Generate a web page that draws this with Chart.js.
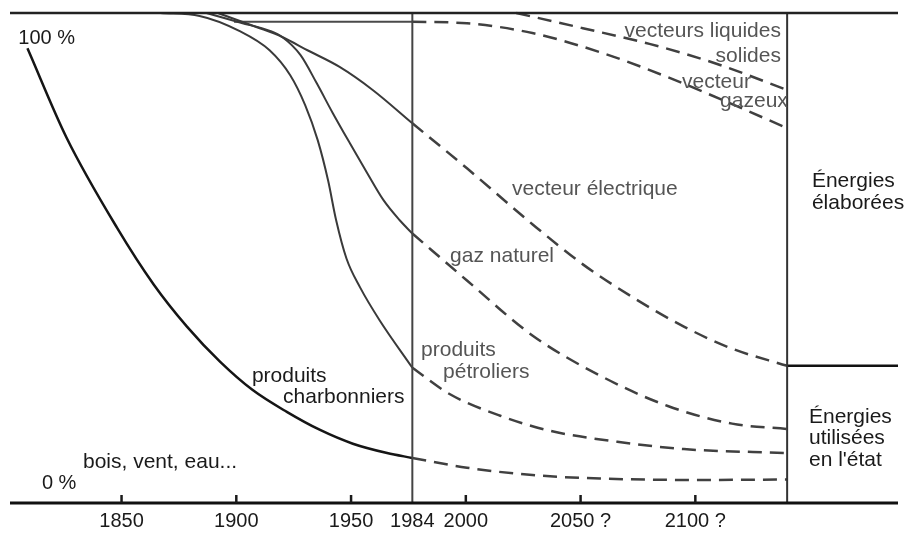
<!DOCTYPE html>
<html lang="fr">
<head>
<meta charset="utf-8">
<title>Énergies élaborées et énergies utilisées en l'état</title>
<script src="https://cdn.jsdelivr.net/npm/chart.js@4.4.1/dist/chart.umd.min.js"></script>
<style>
  html, body { margin: 0; padding: 0; background: #fff; }
  canvas { display: block; }
</style>
</head>
<body>
<canvas id="grafico" width="905" height="550"></canvas>
<script>
// axe des années
const tickYears = [1850, 1900, 1950, 1984, 2000, 2050, 2100];
const tickLabels = ['1850', '1900', '1950', '1984', '2000', '2050 ?', '2100 ?'];
const presentYear = 1984;
const horizonYear = 2140;

// bois, vent, eau (limite haute)
const woodYears = [1809, 1826, 1848, 1864, 1878.5, 1893, 1907, 1922, 1936.5, 1951, 1970, 1984];
const woodShare = [92.8, 74.6, 56.2, 44.6, 36.0, 28.8, 23.1, 18.6, 14.9, 12.1, 10.2, 9.2];
const woodFutureYears = [1984, 2000.5, 2029, 2058.5, 2102, 2140];
const woodFutureShare = [9.2, 7.2, 5.7, 5.0, 4.7, 4.8];

// produits charbonniers
const coalYears = [1867, 1884, 1901.5, 1914.5, 1923.5, 1930, 1935.5, 1940, 1943.5, 1948, 1955, 1966, 1984];
const coalShare = [100, 99.4, 96.3, 92.4, 87.3, 81.2, 74.0, 65.8, 57.7, 49.9, 44.0, 37.2, 27.6];
const coalFutureYears = [1984, 1995, 2015, 2037, 2066, 2095, 2140];
const coalFutureShare = [27.6, 22.3, 17.8, 14.7, 12.5, 11.0, 10.2];

// produits pétroliers
const oilYears = [1887, 1902, 1915, 1920, 1928, 1935, 1942, 1949.5, 1959, 1968, 1977, 1984];
const oilShare = [100, 98.0, 96.3, 95.1, 91.4, 85.7, 79.6, 73.4, 67.3, 61.8, 57.7, 55.0];
const oilFutureYears = [1984, 2000.5, 2029, 2058.5, 2088, 2116, 2140];
const oilFutureShare = [55.0, 45.4, 34.2, 26.0, 19.8, 16.2, 15.1];

// gaz naturel
const gasYears = [1892, 1909, 1920, 1931, 1945, 1962, 1984];
const gasShare = [100, 97.1, 95.1, 92.4, 89.0, 84.3, 77.5];
const gasFutureYears = [1984, 2000.5, 2029, 2051, 2073, 2095, 2116, 2140];
const gasFutureShare = [77.5, 68.3, 56.9, 48.7, 41.9, 36.0, 31.5, 28.0];

// vecteur électrique
const electricYears = [1899, 1984];
const electricShare = [98.2, 98.2];
const electricFutureYears = [1984, 2000.5, 2029, 2058.5, 2088, 2116, 2140];
const electricFutureShare = [98.2, 97.9, 95.9, 92.0, 86.9, 81.4, 76.5];

// vecteur gazeux
const gaseousYears = [2022, 2051, 2080, 2109.5, 2140];
const gaseousShare = [100, 96.9, 93.7, 89.6, 84.3];

const BLACK = '#1a1a1a';
const GREY = '#555';
const labels = [
    { text: '100 %', x: 1805, y: 93.7, size: 20, color: BLACK },
    { text: '0 %', x: 1815.3, y: 2.9, size: 20, color: BLACK },
    { text: 'bois, vent, eau...', x: 1833.2, y: 7.2, color: BLACK },
    { text: 'produits', x: 1906.8, y: 24.7, color: BLACK },
    { text: 'charbonniers', x: 1920.4, y: 20.4, color: BLACK },
    { text: 'produits', x: 1986.6, y: 29.9, color: GREY },
    { text: 'pétroliers', x: 1993.2, y: 25.6, color: GREY },
    { text: 'gaz naturel', x: 1995.3, y: 49.1, color: GREY },
    { text: 'vecteur électrique', x: 2020.1, y: 62.8, color: GREY },
    { text: 'vecteurs liquides', x: 2137.3, y: 95.1, color: GREY, align: 'right' },
    { text: 'solides', x: 2137.3, y: 90.0, color: GREY, align: 'right' },
    { text: 'vecteur', x: 2094.2, y: 84.7, color: GREY },
    { text: 'gazeux', x: 2110.8, y: 80.8, color: GREY },
    { text: 'Énergies', x: 2150.8, y: 64.4, color: BLACK },
    { text: 'élaborées', x: 2150.8, y: 60.1, color: BLACK },
    { text: 'Énergies', x: 2149.5, y: 16.4, color: BLACK },
    { text: 'utilisées', x: 2149.5, y: 12.1, color: BLACK },
    { text: "en l'état", x: 2149.5, y: 7.6, color: BLACK }
];

// le dessin d'origine place 1984 plus à gauche : l'axe est resserré entre 1950 et 1984
function bend(v) {
    if (v > 1950 && v <= 1984) return 1950 + (v - 1950) * 26.7 / 34;
    if (v > 1984 && v < 2000) return 1976.7 + (v - 1984) * 23.3 / 16;
    return v;
}

class BentScale extends Chart.LinearScale {
    getPixelForValue(value) {
        const a = bend(this.min), b = bend(this.max);
        return this.getPixelForDecimal((bend(value) - a) / (b - a));
    }
}
BentScale.id = 'bent';
BentScale.defaults = Chart.LinearScale.defaults;
Chart.register(BentScale);

function serie(years, shares, dashed, color, width) {
    return {
        data: years.map((yr, i) => ({ x: yr, y: shares[i] })),
        borderColor: color,
        borderWidth: width,
        borderDash: dashed ? [14, 8] : [],
        pointRadius: 0,
        cubicInterpolationMode: 'monotone',
        fill: false,
        clip: 8
    };
}

function trait(points, color, width) {
    return {
        data: points,
        borderColor: color,
        borderWidth: width,
        pointRadius: 0,
        tension: 0,
        fill: false,
        clip: 8
    };
}

const xMin = 1801.4;
const xMax = 2188.3;

const decor = {
    id: 'decor',
    afterDatasetsDraw(chart) {
        const { ctx, chartArea, scales: { x, y } } = chart;
        ctx.save();
        ctx.strokeStyle = BLACK;
        ctx.lineWidth = 2.5;
        tickYears.forEach(year => {
            if (year === presentYear) return;
            const px = x.getPixelForValue(year);
            ctx.beginPath();
            ctx.moveTo(px, chartArea.bottom);
            ctx.lineTo(px, chartArea.bottom - 8);
            ctx.stroke();
        });
        ctx.textBaseline = 'alphabetic';
        labels.forEach(l => {
            ctx.font = (l.size || 21) + 'px "Liberation Sans", Arial, sans-serif';
            ctx.fillStyle = l.color;
            ctx.textAlign = l.align || 'left';
            ctx.fillText(l.text, x.getPixelForValue(l.x), y.getPixelForValue(l.y));
        });
        ctx.restore();
    }
};

const ctx = document.getElementById('grafico').getContext('2d');

new Chart(ctx, {
    type: 'line',
    data: {
        datasets: [
            trait([{ x: xMin, y: 100 }, { x: xMax, y: 100 }], '#222', 2.5),
            trait([{ x: xMin, y: 0 }, { x: xMax, y: 0 }], '#111', 3),
            trait([{ x: presentYear, y: 0 }, { x: presentYear, y: 100 }], '#444', 2),
            trait([{ x: horizonYear, y: 0 }, { x: horizonYear, y: 100 }], '#333', 2),
            trait([{ x: horizonYear, y: gasFutureShare[gasFutureShare.length - 1] }, { x: xMax, y: gasFutureShare[gasFutureShare.length - 1] }], '#111', 2.5),

            serie(woodYears, woodShare, false, '#151515', 2.5),
            serie(coalYears, coalShare, false, '#3a3a3a', 2),
            serie(oilYears, oilShare, false, '#3a3a3a', 2),
            serie(gasYears, gasShare, false, '#3a3a3a', 2),
            serie(electricYears, electricShare, false, '#4a4a4a', 2),

            serie(woodFutureYears, woodFutureShare, true, '#404040', 2.5),
            serie(coalFutureYears, coalFutureShare, true, '#404040', 2.5),
            serie(oilFutureYears, oilFutureShare, true, '#404040', 2.5),
            serie(gasFutureYears, gasFutureShare, true, '#404040', 2.5),
            serie(electricFutureYears, electricFutureShare, true, '#404040', 2.5),
            serie(gaseousYears, gaseousShare, true, '#404040', 2.5)
        ]
    },
    options: {
        responsive: false,
        animation: false,
        layout: {
            padding: { top: 13, left: 10, right: 7, bottom: 11 }
        },
        plugins: {
            legend: { display: false },
            tooltip: { enabled: false }
        },
        scales: {
            x: {
                type: 'bent',
                min: xMin,
                max: xMax,
                afterBuildTicks: axis => {
                    axis.ticks = tickYears.map(v => ({ value: v }));
                },
                ticks: {
                    autoSkip: false,
                    maxRotation: 0,
                    padding: 6,
                    color: BLACK,
                    font: { family: "'Liberation Sans', Arial, sans-serif", size: 20 },
                    callback: (value, index) => tickLabels[index]
                },
                grid: { display: false, drawTicks: false },
                border: { display: false }
            },
            y: {
                display: false,
                min: 0,
                max: 100
            }
        }
    },
    plugins: [decor]
});
</script>
</body>
</html>
